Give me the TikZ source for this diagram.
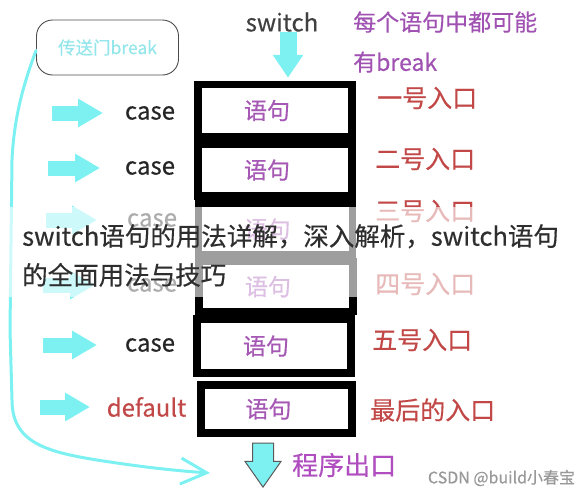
\documentclass[tikz,border=0pt]{standalone}
\usepackage{fontspec}
\setmainfont{Noto Sans CJK SC}[FakeBold=0.4]
\usetikzlibrary{arrows.meta,positioning,shapes.arrows}
\definecolor{arrowcyan}{HTML}{7DF0F2}
\definecolor{breakcyan}{HTML}{94E6EA}
\definecolor{stmtpurple}{HTML}{A558B4}
\definecolor{entryred}{HTML}{C24848}
\definecolor{notepurple}{HTML}{A052B2}
\definecolor{exitpurple}{HTML}{B04EC0}
\tikzstyle{stmtbox}=[draw, line width=7.5pt, minimum width=154pt, minimum height=52pt, inner sep=0pt]
\tikzstyle{stmtword}=[inner sep=0pt, text=stmtpurple, font=\fontsize{23}{23}\selectfont]
\tikzstyle{caseword}=[inner sep=0pt, text=black!85, font=\fontsize{24}{24}\selectfont]
\tikzstyle{entryword}=[inner sep=0pt, anchor=west, text=entryred, font=\fontsize{25}{25}\selectfont]
\newcommand{\stmtbox}{\node[stmtbox]}
\newcommand{\caseword}{\node[caseword]}
\newcommand{\entryword}{\node[entryword]}

\begin{document}
\begin{tikzpicture}[x=1pt, y=-1pt,
    fat/.style={draw=arrowcyan, line width=15pt, -{Triangle[length=25pt, width=27pt]}},
    loopline/.style={draw=arrowcyan, line width=3pt, line cap=round,
                     -{Straight Barb[length=26pt, width=26pt]}}
]
\useasboundingbox (0,0) rectangle (584,490);

% top part
\node[draw=black!70, line width=0.9pt, rounded corners=16pt, minimum width=142pt, minimum height=55pt,
      text=breakcyan, font=\fontsize{17.5}{17.5}\selectfont] (brk) at (107.5,47.5) {传送门break};
\caseword[text=black!75] (sw) at (282,22) {switch};
\node[anchor=west, align=left, inner sep=0pt, text=notepurple,
      font=\fontsize{23}{40}\selectfont] (note) at (353,42) {每个语句中都可能\\有break};

% statement boxes
\stmtbox (b1) at (275,110.5) {};
\stmtbox (b2) at (275,170) {};
\stmtbox[minimum height=51pt] (b3) at (275.5,229) {};
\stmtbox[minimum height=50pt] (b4) at (276,286.5) {};
\stmtbox[minimum height=54pt] (b5) at (274,346) {};
\stmtbox[minimum width=151pt, minimum height=48pt] (b6) at (276.5,409) {};
\foreach \i in {1,...,6}
  \node[stmtword] (s\i) at ([xshift=-8pt]b\i.center) {语句};

% case labels
\caseword (c1) at (150,113) {case};
\caseword (c2) at (150,168) {case};
\caseword (c3) at (152,220) {case};
\caseword (c4) at (152,285) {case};
\caseword (c5) at (150,345) {case};
\caseword[text=entryred] (c6) at (146.5,407) {default};

% entry labels
\entryword (e1) at (377,98) {一号入口};
\entryword (e2) at (375,159) {二号入口};
\entryword (e3) at (375,211) {三号入口};
\entryword (e4) at (375,284) {四号入口};
\entryword (e5) at (372,340) {五号入口};
\entryword (e6) at (370,410) {最后的入口};

% cyan pointers
\foreach \i/\x/\s in {1/52/47, 2/48/50, 3/46/55, 4/43/57, 5/43/53, 6/40/56.5} {
  \coordinate (p\i) at (c\i -| \x,0);
  \draw[fat] (p\i) -- ([xshift=-\s pt]c\i.center);
}
\draw[fat, line width=17pt, -{Triangle[length=23pt, width=29pt]}]
  ([xshift=6pt]sw.south) -- ([xshift=6pt, yshift=3pt]sw.south |- b1.north);

% exit
\node[single arrow, rotate=-90, anchor=tip, draw=black!65, line width=1pt, fill=arrowcyan,
      minimum height=44pt, minimum width=35pt, inner sep=10pt,
      single arrow head extend=7.5pt, single arrow tip angle=70] (exitarr) at (263,488) {};
\node[anchor=west, inner sep=0pt, text=exitpurple, font=\fontsize{26}{26}\selectfont] (exit) at (292,465) {程序出口};

% break loop
\coordinate (loopend) at (210,473);
\draw[loopline] ([yshift=-3pt]brk.west) .. controls (25,80) and (14,115) .. (12,160)
  -- (10,330) -- (12,400) .. controls (12,445) and (50,453) .. (110,462)
  .. controls (150,468) and (180,471) .. (loopend);

\node[inner sep=0pt, text=black!40, font=\fontsize{16}{16}\selectfont] (mark) at (501.5,478) {CSDN @build小春宝};

% title overlay
\fill[white, opacity=0.62] (0,207) rectangle (584,297);
\node[anchor=west, align=left, inner sep=0pt, text=black!82, font=\fontsize{25.5}{39}\selectfont]
  (title) at (22,255.5) {switch语句的用法详解，深入解析，switch语句\\的全面用法与技巧};
\end{tikzpicture}
\end{document}
